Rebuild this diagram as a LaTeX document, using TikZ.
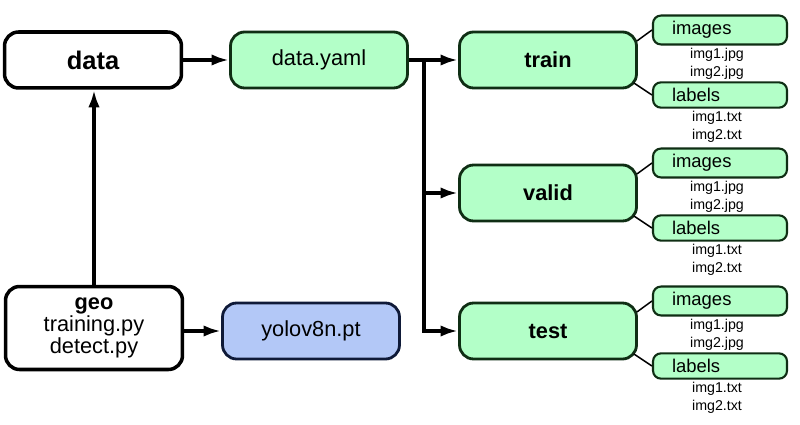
\documentclass[tikz,border=0pt]{standalone}
\usepackage{fontspec}
\setmainfont{Liberation Sans}
\usetikzlibrary{positioning,arrows.meta,calc}
\definecolor{mint}{HTML}{B3FFC8}
\definecolor{mintline}{HTML}{0F2E14}
\definecolor{sky}{HTML}{B3C8F7}
\definecolor{skyline}{HTML}{0F1A38}

\begin{document}
\begin{tikzpicture}[x=0.02cm, y=-0.02cm,
  box/.style={draw, line width=2pt, rounded corners=8pt, minimum width=3.54cm,
    minimum height=1.12cm, align=center, font=\fontsize{12.4}{11.3}\selectfont},
  folder/.style={box, fill=mint, draw=mintline, line width=1.6pt},
  sub/.style={draw=mintline, fill=mint, line width=1.2pt, rounded corners=4.5pt,
    minimum height=0.5cm, text width=1.92cm, inner xsep=0.38cm, align=left,
    font=\fontsize{10.5}{12}\selectfont},
  file/.style={inner sep=0pt, font=\fontsize{8.1}{9}\selectfont},
  link/.style={-{Latex[length=10pt,width=6.5pt]}, line width=2pt},
  twig/.style={line width=0.85pt}]
  \useasboundingbox (0,0) rectangle (800,425);

  \node[box, font=\bfseries\fontsize{14.5}{16}\selectfont] (data) at (93,60) {data};
  \node[folder] (yaml) at (319,60) {data.yaml};
  \node[box, minimum height=1.66cm] (geo) at (94,328) {\textbf{geo}\\training.py\\detect.py};
  \node[box, fill=sky, draw=skyline, line width=1.6pt] (yolo) at (311,331) {yolov8n.pt};

  \draw[link] (data.east) -- (yaml.west);
  \draw[link] (geo.north) -- (geo.north |- data.south);
  \draw[link] (geo.east |- yolo.west) -- (yolo.west);

  % dataset folders
  \foreach \f/\y in {train/60, valid/193, test/331} {
    \node[folder, font=\bfseries\fontsize{12.4}{14}\selectfont] (\f) at (548,\y) {\f};
    \node[sub] (\f-img) at (720,\y-30) {images};
    \node[sub] (\f-lbl) at (720,\y+35) {labels};
    \node[file] (\f-j1) at (717,\y-5) {img1.jpg};
    \node[file] (\f-j2) at (717,\y+13) {img2.jpg};
    \node[file] (\f-t1) at (717,\y+58) {img1.txt};
    \node[file] (\f-t2) at (717,\y+76) {img2.txt};
    \draw[twig] ($(\f.east)+(-1,-19)$) -- (\f-img.west);
    \draw[twig] ($(\f.east)+(-4,23)$) -- (\f-lbl.west);
  }

  \coordinate (split) at (424,60);
  \draw[link] (yaml.east) -- (train.west);
  \draw[link] (split) |- (test.west);
  \draw[link] (split |- valid.west) -- (valid.west);
\end{tikzpicture}
\end{document}
